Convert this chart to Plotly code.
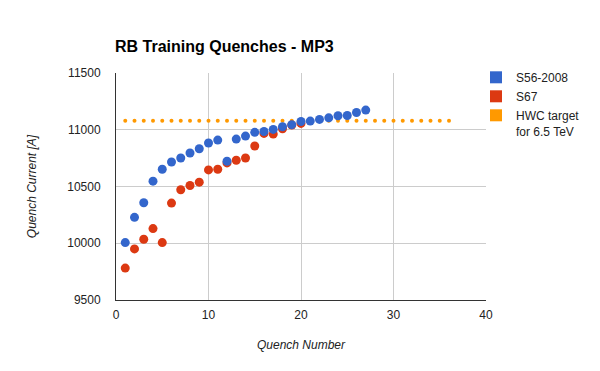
import plotly.graph_objects as go

s56_x = list(range(1, 28))
s56_y = [10006, 10228, 10357, 10547, 10652, 10716, 10751, 10795, 10833, 10883,
         10909, 10722, 10918, 10944, 10977, 10985, 11003, 11026, 11045, 11073,
         11076, 11091, 11105, 11123, 11126, 11152, 11173]

s67_x = list(range(1, 21))
s67_y = [9781, 9950, 10035, 10129, 10006, 10354, 10471, 10509, 10538, 10646,
         10652, 10708, 10731, 10751, 10857, 10968, 10962, 11009, 11041, 11056]

hwc_x = list(range(1, 37))
hwc_y = [11080] * 36

x_ticks = [0, 10, 20, 30, 40]
y_ticks = [9500, 10000, 10500, 11000, 11500]
y_tick_labels = ["9500", "10000", "10500", "11000", "11500"]

BLUE = "#3366cc"
RED = "#dc3912"
ORANGE = "#ff9900"
FONT = "Liberation Sans, Arial, sans-serif"

# page offset compensation (body margin)
OX, OY = 8, 7
L = 116 - OX
T = 72 - OY
PW, PH = 370, 227
R = 600 - L - PW
B = 371 - T - PH

fig = go.Figure()
fig.add_trace(go.Scatter(x=hwc_x, y=hwc_y, mode="markers",
                         marker=dict(color=ORANGE, size=4), showlegend=False, hoverinfo="skip"))
fig.add_trace(go.Scatter(x=s67_x, y=s67_y, mode="markers",
                         marker=dict(color=RED, size=9), showlegend=False))
fig.add_trace(go.Scatter(x=s56_x, y=s56_y, mode="markers",
                         marker=dict(color=BLUE, size=9), showlegend=False))

for name, col in [("S56-2008", BLUE), ("S67", RED), ("HWC target<br>for 6.5 TeV", ORANGE)]:
    fig.add_trace(go.Scatter(x=[None], y=[None], mode="markers", name=name,
                             marker=dict(color=col, size=11, symbol="square")))

fig.update_layout(
    width=600, height=371,
    margin=dict(l=L, r=R, t=T, b=B, autoexpand=False),
    paper_bgcolor="white", plot_bgcolor="white",
    font=dict(family=FONT, size=12, color="#222222"),
    title=dict(text="<b>RB Training Quenches - MP3</b>", x=(115 - OX) / 600, xanchor="left",
               y=1 - (45 - OY) / 371, yanchor="middle", font=dict(size=16, color="#000000")),
    xaxis=dict(range=[0, 40], tickvals=x_ticks, showgrid=True, gridcolor="#cccccc",
               zeroline=False, showline=True, linecolor="#333333", linewidth=1,
               ticks="", tickfont=dict(size=12, color="#222222"), ticklabelstandoff=4,
               title=dict(text="<i>Quench Number</i>", font=dict(size=12, color="#222222"), standoff=19)),
    yaxis=dict(range=[9500, 11500], tickvals=y_ticks, ticktext=y_tick_labels,
               showgrid=True, gridcolor="#cccccc",
               zeroline=False, showline=True, linecolor="#333333", linewidth=1,
               ticks="", tickfont=dict(size=12, color="#222222"), ticklabelstandoff=12,
               title=dict(text="<i>Quench Current [A]</i>", font=dict(size=12, color="#222222"), standoff=28)),
    legend=dict(x=(476 - 116) / PW, xanchor="left", y=1 + (72 - 62) / PH, yanchor="top",
                font=dict(size=12, color="#222222"), bgcolor="rgba(0,0,0,0)",
                itemsizing="constant", tracegroupgap=2, valign="top"),
)

fig.write_html("out.html")
